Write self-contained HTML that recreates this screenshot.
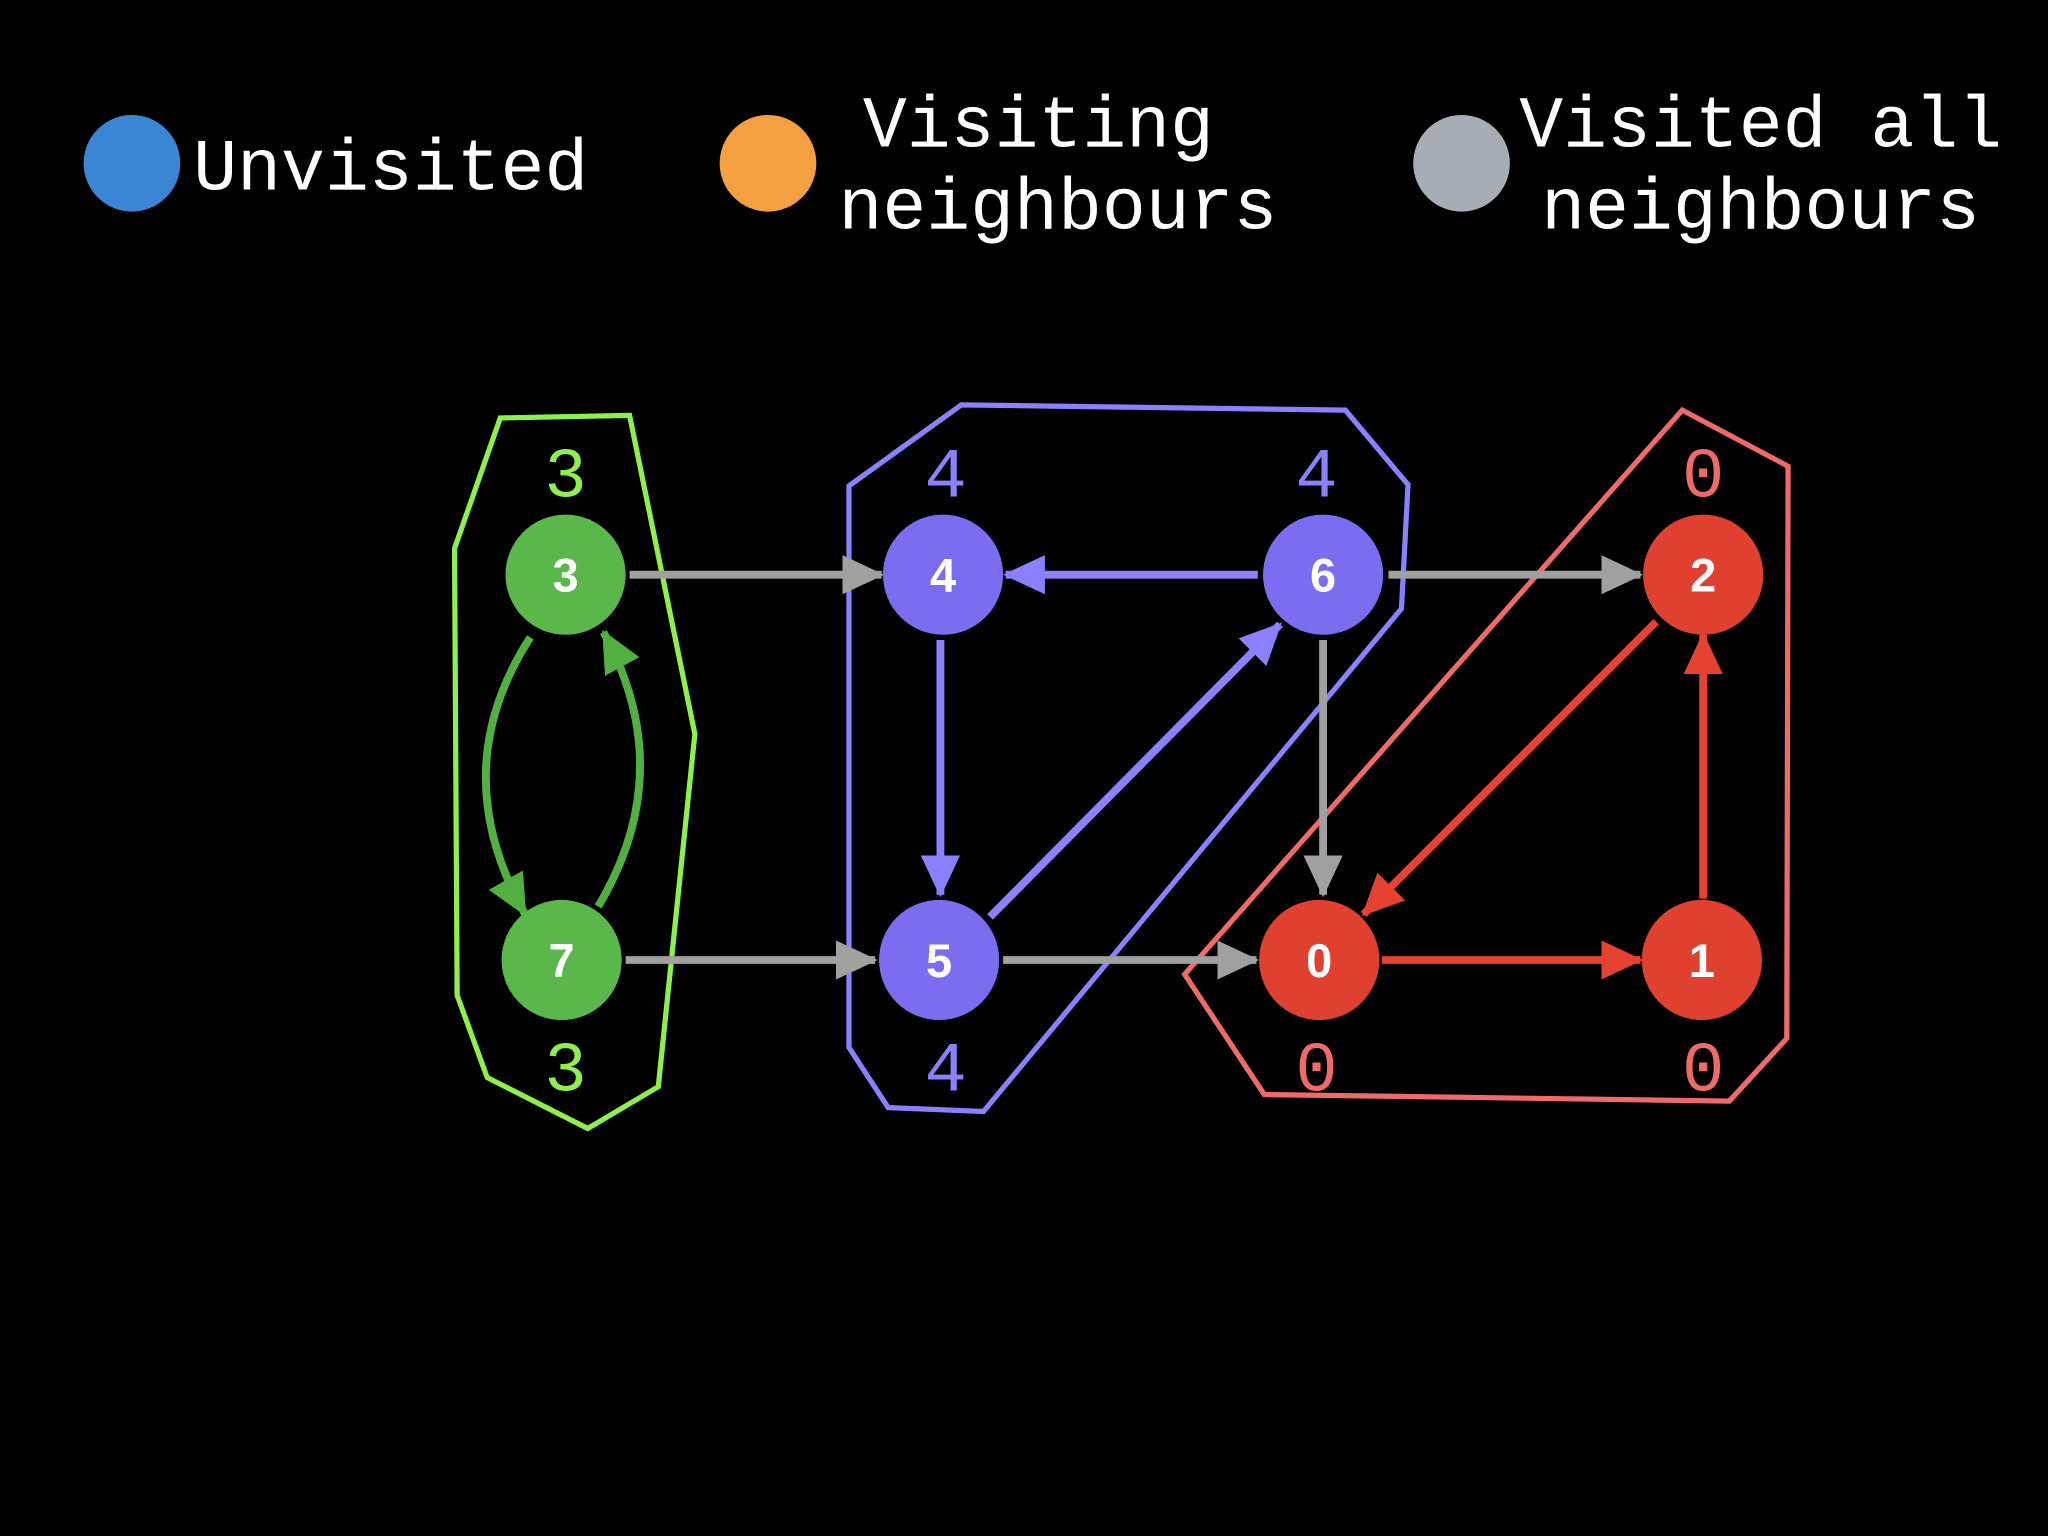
<!DOCTYPE html>
<html><head><meta charset="utf-8"><style>html,body{margin:0;padding:0;background:#000;width:2048px;height:1536px;overflow:hidden}</style></head>
<body>
<svg width="2048" height="1536" viewBox="0 0 1568 1176" xmlns="http://www.w3.org/2000/svg">
<defs>
<marker id="ag" markerUnits="userSpaceOnUse" markerWidth="34" markerHeight="30" refX="30" refY="15" orient="auto"><path d="M0,0 L32,15 L0,30 Z" fill="#a0a0a0"/></marker>
<marker id="ap" markerUnits="userSpaceOnUse" markerWidth="34" markerHeight="30" refX="30" refY="15" orient="auto"><path d="M0,0 L32,15 L0,30 Z" fill="#8b80ff"/></marker>
<marker id="ar" markerUnits="userSpaceOnUse" markerWidth="34" markerHeight="30" refX="30" refY="15" orient="auto"><path d="M0,0 L32,15 L0,30 Z" fill="#e64232"/></marker>
<marker id="agr" markerUnits="userSpaceOnUse" markerWidth="34" markerHeight="30" refX="30" refY="15" orient="auto"><path d="M0,0 L32,15 L0,30 Z" fill="#52b040"/></marker>
</defs>
<rect width="1568" height="1176" fill="#000"/>
<g font-family="Liberation Mono, monospace" fill="#fff" font-size="56">
<circle cx="101" cy="125" r="37" fill="#3a86d4"/>
<text x="148" y="145">Unvisited</text>
<circle cx="588" cy="125" r="37" fill="#f5a040"/>
<text x="795" y="112" text-anchor="middle">Visiting</text>
<text x="810" y="175" text-anchor="middle">neighbours</text>
<circle cx="1119" cy="125" r="37" fill="#a8acb4"/>
<text x="1348" y="112" text-anchor="middle">Visited all</text>
<text x="1348" y="175" text-anchor="middle">neighbours</text>
</g>
<g fill="none" stroke-width="4" stroke-linejoin="miter">
<polygon points="383,320 482,318 532,562 504,832 450,864 373,825 350,762 348,420" stroke="#8ef04a"/>
<polygon points="650,372 736,310 1030,314 1078,371 1073,466 753,851 680,848 650,802" stroke="#8b80ff"/>
<polygon points="907,746 1288,314 1369,357 1368,795 1324,843 968,838" stroke="#f06a6a"/>
</g>
<g stroke-width="6" fill="none">
<line x1="482" y1="440" x2="675" y2="440" stroke="#a0a0a0" marker-end="url(#ag)"/>
<line x1="479" y1="735" x2="670" y2="735" stroke="#a0a0a0" marker-end="url(#ag)"/>
<line x1="768" y1="735" x2="962" y2="735" stroke="#a0a0a0" marker-end="url(#ag)"/>
<line x1="1063" y1="440" x2="1256" y2="440" stroke="#a0a0a0" marker-end="url(#ag)"/>
<line x1="1013" y1="490" x2="1013" y2="685" stroke="#a0a0a0" marker-end="url(#ag)"/>
<line x1="963" y1="440" x2="770" y2="440" stroke="#8b80ff" marker-end="url(#ap)"/>
<line x1="720" y1="490" x2="720" y2="685" stroke="#8b80ff" marker-end="url(#ap)"/>
<line x1="758" y1="702" x2="980" y2="478" stroke="#8b80ff" marker-end="url(#ap)"/>
<line x1="1268" y1="476" x2="1044" y2="700" stroke="#e64232" marker-end="url(#ar)"/>
<line x1="1058" y1="735" x2="1256" y2="735" stroke="#e64232" marker-end="url(#ar)"/>
<line x1="1304" y1="688" x2="1304" y2="486" stroke="#e64232" marker-end="url(#ar)"/>
<path d="M406,488 Q340,590 402,700" stroke="#52b040" marker-end="url(#agr)"/>
<path d="M458,694 Q520,590 462,484" stroke="#52b040" marker-end="url(#agr)"/>
</g>
<g font-family="Liberation Sans, sans-serif" font-weight="bold" font-size="36" fill="#fff" text-anchor="middle">
<circle cx="433" cy="440" r="46" fill="#5ab84a"/><text x="433" y="453">3</text>
<circle cx="430" cy="735" r="46" fill="#5ab84a"/><text x="430" y="748">7</text>
<circle cx="722" cy="440" r="46" fill="#7b6cf0"/><text x="722" y="453">4</text>
<circle cx="719" cy="735" r="46" fill="#7b6cf0"/><text x="719" y="748">5</text>
<circle cx="1013" cy="440" r="46" fill="#7b6cf0"/><text x="1013" y="453">6</text>
<circle cx="1010" cy="735" r="46" fill="#e04030"/><text x="1010" y="748">0</text>
<circle cx="1304" cy="440" r="46" fill="#e04030"/><text x="1304" y="453">2</text>
<circle cx="1303" cy="735" r="46" fill="#e04030"/><text x="1303" y="748">1</text>
</g>
<g font-family="Liberation Mono, monospace" font-size="54" text-anchor="middle">
<text x="433" y="380" fill="#8ef04a">3</text>
<text x="433" y="835" fill="#8ef04a">3</text>
<text x="724" y="380" fill="#8b80ff">4</text>
<text x="1008" y="380" fill="#8b80ff">4</text>
<text x="724" y="835" fill="#8b80ff">4</text>
<text x="1304" y="380" fill="#f06a6a">0</text>
<text x="1008" y="835" fill="#f06a6a">0</text>
<text x="1304" y="835" fill="#f06a6a">0</text>
</g>
</svg>
</body></html>
